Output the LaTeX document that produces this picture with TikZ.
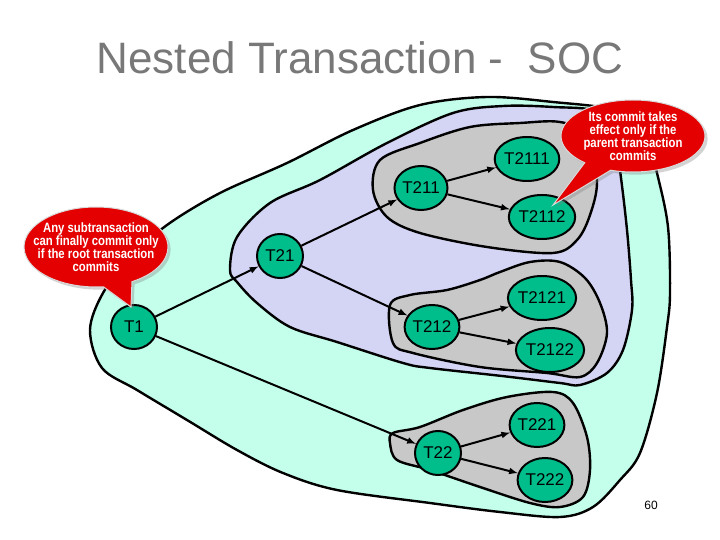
\documentclass[tikz,border=0pt]{standalone}
\usepackage{fontspec}
\setmainfont{Liberation Sans}
\newfontfamily\callfont[FakeStretch=0.84]{Liberation Sans}
\usetikzlibrary{arrows}
\usetikzlibrary{shapes.geometric}
\usetikzlibrary{shapes.callouts}
\usetikzlibrary{shadows}
\definecolor{outercyan}{RGB}{196,255,236}
\definecolor{midlilac}{RGB}{212,212,244}
\definecolor{groupgrey}{RGB}{200,200,200}
\definecolor{txngreen}{RGB}{0,190,140}
\definecolor{callred}{RGB}{228,0,0}
\definecolor{titlegrey}{RGB}{120,120,120}

\begin{document}
\begin{tikzpicture}[x=1pt,y=-1pt,>=latex,
  blob/.style={draw,line width=2.4pt,line join=round},
  note/.style={ellipse callout,fill=callred,draw=white!85!black,line width=1pt,
    text=white,align=center,font=\callfont\bfseries\fontsize{13.5}{13}\selectfont,
    inner xsep=-25pt,inner ysep=-8pt,callout pointer arc=24,
    drop shadow={opacity=0.35}}]
  \useasboundingbox (0,0) rectangle (720,540);

  \node (title) at (360,58) [text=titlegrey,font=\fontsize{44}{44}\selectfont] {Nested Transaction - \ SOC};

  % nesting levels
  \draw[blob,fill=outercyan] plot[smooth cycle,tension=0.55] coordinates {
    (90,330) (103,293) (130,258) (167,225) (220,193) (287,163) (353,130)
    (420,105) (487,97) (553,102) (615,110) (645,130) (657,173) (668,227)
    (670,293) (667,327) (657,393) (640,453) (620,480) (593,507) (560,517)
    (500,512) (430,503) (337,490) (283,473) (237,450) (187,420) (137,390)
    (102,368)};
  \draw[blob,fill=midlilac] plot[smooth cycle,tension=0.55] coordinates {
    (230,270) (237,237) (270,203) (320,180) (387,143) (453,113) (503,106)
    (553,107) (598,112) (615,140) (621,178) (627,230) (631,280) (632,310)
    (623,350) (607,373) (580,385) (560,383) (502,376) (430,368) (403,363)
    (337,342) (290,327) (257,303) (237,282)};
  \draw[blob,fill=groupgrey] plot[smooth cycle,tension=0.55] coordinates {
    (373,190) (380,160) (420,143) (470,127) (520,123) (560,122) (588,135)
    (597,181) (590,215) (577,240) (553,253) (487,247) (420,233) (387,217)};
  \draw[blob,fill=groupgrey] plot[smooth cycle,tension=0.55] coordinates {
    (390,305) (410,295) (447,290) (480,280) (500,272) (530,262) (560,262)
    (585,278) (600,303) (607,333) (597,363) (580,377) (547,373) (480,367)
    (413,353) (393,343)};
  \draw[blob,fill=groupgrey] plot[smooth cycle,tension=0.55] coordinates {
    (393,433) (420,427) (463,410) (507,397) (553,392) (573,403) (587,437)
    (590,470) (583,497) (560,507) (530,503) (480,487) (430,470) (397,460)
    (390,443)};

  % transactions
  \begin{scope}[every node/.style={ellipse,draw,line width=2pt,fill=txngreen,
      minimum width=46pt,minimum height=44pt,inner sep=0pt,
      font=\fontsize{17}{17}\selectfont}]
    \node (t1) at (134,327) {T1};
    \node (t21) at (280,256) {T21};
    \node (t211) at (421,188) {T211};
    \node (t2111) at (527,159) {T2111};
    \node (t2112) at (542,217) {T2112};
    \node (t212) at (432,327) {T212};
    \node (t2121) at (542,298) {T2121};
    \node (t2122) at (550,350) {T2122};
    \node (t22) at (438,453) {T22};
    \node (t221) at (537,425) {T221};
    \node (t222) at (545,480) {T222};
  \end{scope}

  \path [->,line width=2pt] (t1) edge (t21);
  \path [->,line width=2pt] (t1) edge (t22);
  \path [->,line width=2pt] (t21) edge (t211);
  \path [->,line width=2pt] (t21) edge (t212);
  \path [->,line width=2pt] (t211) edge (t2111);
  \path [->,line width=2pt] (t211) edge (t2112);
  \path [->,line width=2pt] (t212) edge (t2121);
  \path [->,line width=2pt] (t212) edge (t2122);
  \path [->,line width=2pt] (t22) edge (t221);
  \path [->,line width=2pt] (t22) edge (t222);

  % remarks
  \node (rootnote) [note,minimum width=144pt,minimum height=80pt,
    callout absolute pointer={(131,307)}] at (96,247)
    {Any subtransaction\\can finally commit only\\if the root transaction\\commits};
  \node (parentnote) [note,minimum width=144pt,minimum height=72pt,
    callout absolute pointer={(553,205)}] at (633,136)
    {Its commit takes\\effect only if the\\parent transaction\\commits};

  \node (page) at (651,505) [font=\fontsize{12}{12}\selectfont] {60};
\end{tikzpicture}
\end{document}
